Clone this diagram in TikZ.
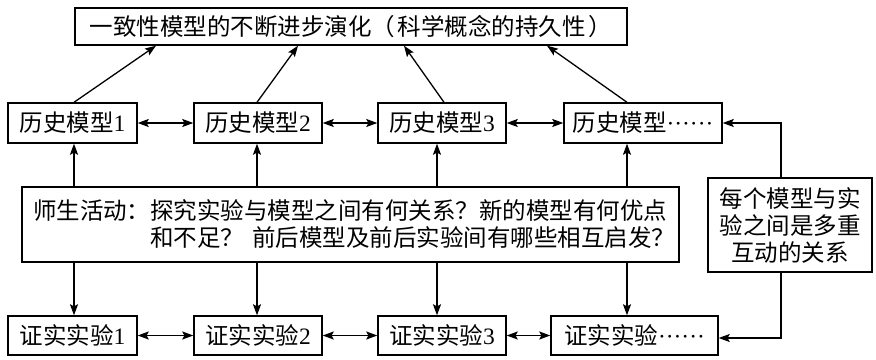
\documentclass[tikz,border=0pt]{standalone}
\usepackage{fontspec}
\setmainfont{Noto Sans CJK SC}
\newfontfamily\lat{Liberation Serif}
\usetikzlibrary{arrows.meta}
\newcommand\sixdots{\hbox to 47pt{\lat\leaders\hbox to 7.83pt{\hss·\hss}\hfill}}
\begin{document}
\begin{tikzpicture}[x=1pt,y=-1pt,
  box/.style={draw,line width=1.4pt,inner sep=0pt,minimum height=40pt,
    font=\fontsize{23.5}{27}\selectfont},
  arr/.style={line width=1.3pt,-{Stealth[length=11pt,width=8pt,inset=2pt]}},
  darr/.style={line width=1.3pt,{Stealth[length=11pt,width=8pt,inset=2pt]}-{Stealth[length=11pt,width=8pt,inset=2pt]}}]
\useasboundingbox (0,0) rectangle (876,359);
% top
\node[box,minimum width=552pt,minimum height=37pt] (top) at (351,26.5)
  {一致性模型的不断进步演化（\hspace{3pt}科学概念的持久性\hspace{3pt}）};
% history models
\node[box,minimum width=129pt] (h1) at (72.5,123) {历史模型{\lat 1}};
\node[box,minimum width=128pt] (h2) at (258,123) {历史模型{\lat 2}};
\node[box,minimum width=128pt] (h3) at (442,123) {历史模型{\lat 3}};
\node[box,minimum width=158pt] (h4) at (643,123) {历史模型\sixdots};
% middle
\node[box,text width=635pt,inner xsep=11pt,align=left,minimum height=75pt] (mid) at (350.5,224.5)
  {师生活动：探究实验与模型之间有何关系？新的模型有何优点\\
   \phantom{师生活动：}和不足？ 前后模型及前后实验间有哪些相互启发？};
% experiments
\node[box,minimum width=129pt,minimum height=39pt] (e1) at (72.5,335.5) {证实实验{\lat 1}};
\node[box,minimum width=128pt,minimum height=39pt] (e2) at (258,335.5) {证实实验{\lat 2}};
\node[box,minimum width=128pt,minimum height=39pt] (e3) at (442,335.5) {证实实验{\lat 3}};
\node[box,minimum width=167pt,minimum height=39pt] (e4) at (634.5,335.5) {证实实验\sixdots};
% right note
\node[box,minimum width=164pt,minimum height=94pt,align=center] (rel) at (790,225)
  {每个模型与实\\验之间是多重\\互动的关系};
% column coordinates
\coordinate (c1) at (74,0);
\coordinate (c2) at (257,0);
\coordinate (c3) at (437,0);
\coordinate (c4) at (627,0);
\coordinate (t1) at (156,0);
\coordinate (t2) at (298,0);
\coordinate (t3) at (404,0);
\coordinate (t4) at (547,0);
\coordinate (s3) at (444,0);
\coordinate (cr) at (781,0);
\coordinate (hb) at (0,338);
% to top
\draw[arr] (h1.north -| c1) -- (top.south -| t1);
\draw[arr] (h2.north -| c2) -- (top.south -| t2);
\draw[arr] (h3.north -| s3) -- (top.south -| t3);
\draw[arr] (h4.north -| c4) -- (top.south -| t4);
% horizontals
\draw[darr] (h1.east) -- (h2.west);
\draw[darr] (h2.east) -- (h3.west);
\draw[darr] (h3.east) -- (h4.west);
\draw[darr] (e1.east) -- (e2.west);
\draw[darr] (e2.east) -- (e3.west);
\draw[darr] (e3.east) -- (e4.west);
% verticals
\foreach \i in {1,2,3,4}{
  \draw[arr] (mid.north -| c\i) -- (h\i.south -| c\i);
  \draw[arr] (mid.south -| c\i) -- (e\i.north -| c\i);
}
% right connectors
\draw[arr] (rel.north -| cr) |- (h4.east);
\draw[arr] (rel.south -| cr) |- (e4.east |- hb);
\end{tikzpicture}
\end{document}
